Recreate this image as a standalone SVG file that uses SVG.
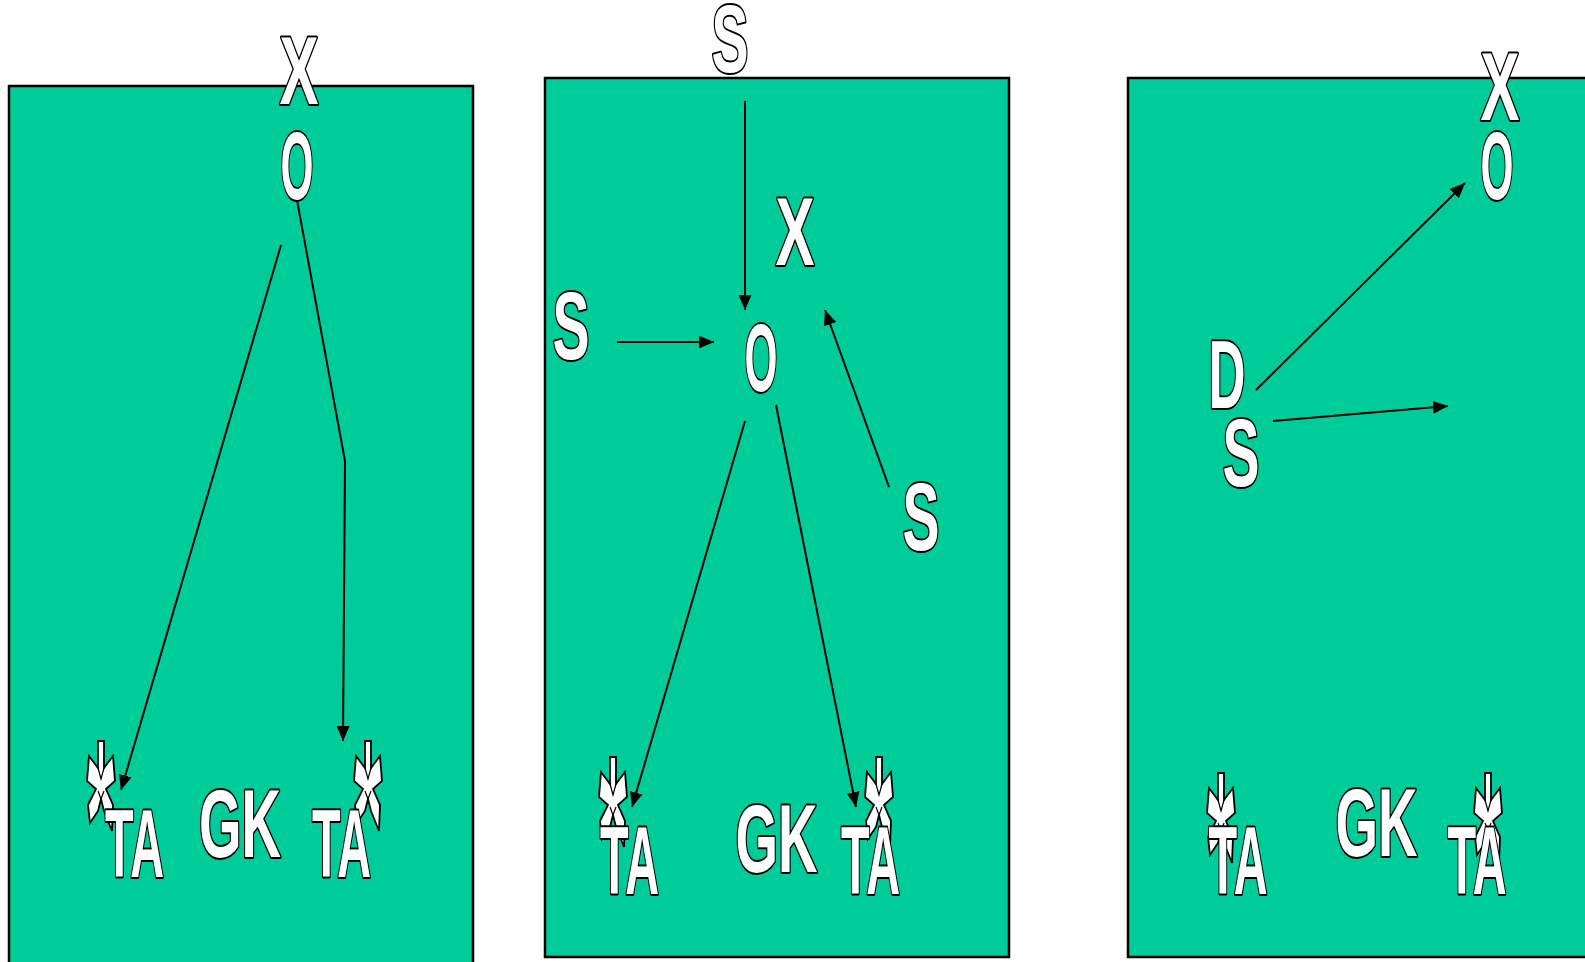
<svg xmlns="http://www.w3.org/2000/svg" width="1585" height="962" viewBox="0 0 1585 962">
<style>
.panel{fill:#00CC99;stroke:#000;stroke-width:2.5}
.t{font-family:"Liberation Sans",Arial,sans-serif;font-weight:bold;font-size:97px;fill:#fff;stroke:#000;stroke-width:4;paint-order:stroke;text-anchor:middle;stroke-linejoin:round}
.c{fill:none;stroke:#000;stroke-width:2}
.sym{fill:#fff;stroke:#000;stroke-width:1.8;stroke-linejoin:miter}
.symi{fill:none;stroke:#000;stroke-width:1.2}
</style>
<defs>
<marker id="ah" markerUnits="userSpaceOnUse" markerWidth="16" markerHeight="14" refX="15" refY="6.5" orient="auto">
<path d="M0,0 L15,6.5 L0,13 z" fill="#000"/>
</marker>
<g id="player">
<path class="sym" d="M-3,0 L3,0 L3,27 L12,15 L14,40 L5,48 L12,64 L11,90 L3,70 L0,58 L-3,70 L-11,82 L-13,64 L-5,48 L-14,40 L-12,15 L-3,27 Z"/>
<path class="symi" d="M-3,27 L0,38 L3,27 M-3,50 L0,58 L3,50"/>
</g>
</defs>

<g id="panel1">
<rect class="panel" x="9" y="86" width="464" height="890"/>
</g>
<g id="panel2">
<rect class="panel" x="545" y="78" width="464" height="879"/>
</g>
<g id="panel3">
<rect class="panel" x="1128" y="78" width="480" height="879"/>
</g>

<g id="players">
<use href="#player" x="101" y="741"/>
<use href="#player" x="368" y="741"/>
<use href="#player" x="613" y="757"/>
<use href="#player" x="879" y="757"/>
<use href="#player" x="1221" y="773"/>
<use href="#player" x="1488" y="773"/>
</g>

<g id="connectors">
<line class="c" x1="281" y1="245" x2="121" y2="790" marker-end="url(#ah)"/>
<polyline class="c" points="297,200 345,461 343,741" marker-end="url(#ah)"/>
<line class="c" x1="745" y1="101" x2="745" y2="310" marker-end="url(#ah)"/>
<line class="c" x1="617" y1="342" x2="714" y2="342" marker-end="url(#ah)"/>
<line class="c" x1="889" y1="487" x2="825" y2="310" marker-end="url(#ah)"/>
<line class="c" x1="745" y1="421" x2="632" y2="807" marker-end="url(#ah)"/>
<line class="c" x1="776" y1="405" x2="856" y2="807" marker-end="url(#ah)"/>
<line class="c" x1="1256" y1="390" x2="1465" y2="183" marker-end="url(#ah)"/>
<line class="c" x1="1273" y1="421" x2="1448" y2="406" marker-end="url(#ah)"/>
</g>

<g id="p1-X"><text class="t" x="299" y="104" textLength="39" lengthAdjust="spacingAndGlyphs">X</text></g>
<g id="p1-O"><text class="t" x="297" y="199" textLength="33" lengthAdjust="spacingAndGlyphs">O</text></g>
<g id="p1-TA1"><text class="t" x="134.5" y="877" textLength="59" lengthAdjust="spacingAndGlyphs">TA</text></g>
<g id="p1-GK"><text class="t" x="240" y="857" textLength="82" lengthAdjust="spacingAndGlyphs">GK</text></g>
<g id="p1-TA2"><text class="t" x="341.5" y="877" textLength="59" lengthAdjust="spacingAndGlyphs">TA</text></g>

<g id="p2-S1"><text class="t" x="730" y="72" textLength="37" lengthAdjust="spacingAndGlyphs">S</text></g>
<g id="p2-X"><text class="t" x="795" y="265" textLength="39" lengthAdjust="spacingAndGlyphs">X</text></g>
<g id="p2-S2"><text class="t" x="571" y="359" textLength="37" lengthAdjust="spacingAndGlyphs">S</text></g>
<g id="p2-O"><text class="t" x="761" y="391" textLength="33" lengthAdjust="spacingAndGlyphs">O</text></g>
<g id="p2-S3"><text class="t" x="921" y="550" textLength="37" lengthAdjust="spacingAndGlyphs">S</text></g>
<g id="p2-TA1"><text class="t" x="629.5" y="894" textLength="59" lengthAdjust="spacingAndGlyphs">TA</text></g>
<g id="p2-GK"><text class="t" x="776.5" y="872" textLength="82" lengthAdjust="spacingAndGlyphs">GK</text></g>
<g id="p2-TA2"><text class="t" x="870.5" y="894" textLength="59" lengthAdjust="spacingAndGlyphs">TA</text></g>

<g id="p3-X"><text class="t" x="1500" y="120" textLength="39" lengthAdjust="spacingAndGlyphs">X</text></g>
<g id="p3-O"><text class="t" x="1497" y="199" textLength="33" lengthAdjust="spacingAndGlyphs">O</text></g>
<g id="p3-D"><text class="t" x="1227" y="408" textLength="37" lengthAdjust="spacingAndGlyphs">D</text></g>
<g id="p3-S"><text class="t" x="1241" y="486" textLength="37" lengthAdjust="spacingAndGlyphs">S</text></g>
<g id="p3-TA1"><text class="t" x="1238" y="894" textLength="59" lengthAdjust="spacingAndGlyphs">TA</text></g>
<g id="p3-GK"><text class="t" x="1376.5" y="856" textLength="82" lengthAdjust="spacingAndGlyphs">GK</text></g>
<g id="p3-TA2"><text class="t" x="1477" y="894" textLength="59" lengthAdjust="spacingAndGlyphs">TA</text></g>
</svg>
